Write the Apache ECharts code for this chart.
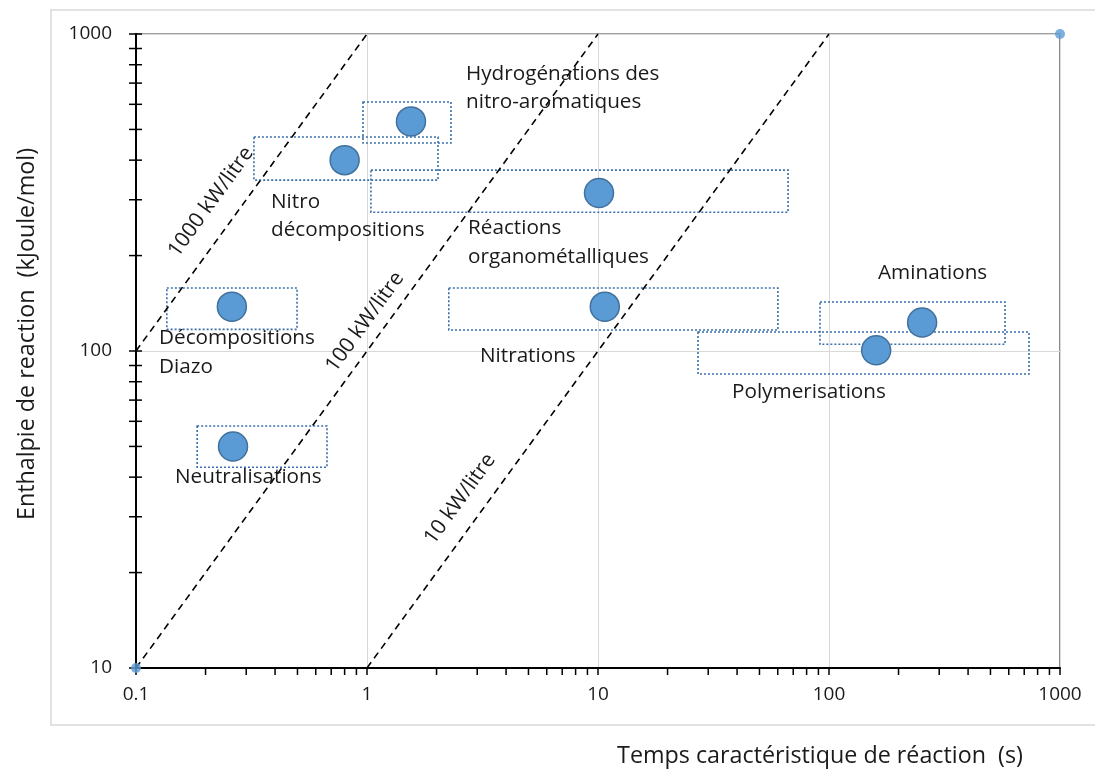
<!DOCTYPE html>
<html>
<head>
<meta charset="utf-8">
<script src="https://cdn.jsdelivr.net/npm/echarts@6/dist/echarts.min.js"></script>
<style>
html,body{margin:0;padding:0;background:#fff;}
#chart{width:1095px;height:771px;}
</style>
</head>
<body>
<div id="chart"></div>
<script>
// ---- data ----
var reactionNames = ['Nitro décompositions','Hydrogénations des nitro-aromatiques','Réactions organométalliques','Décompositions Diazo','Neutralisations','Nitrations','Aminations','Polymerisations'];
var reactionTimes = [0.8, 1.55, 10.1, 0.26, 0.263, 10.7, 253, 160];        // s
var reactionEnthalpy = [400, 530, 315, 138, 50, 138, 123, 100.5];           // kJ/mol
// range boxes: [tMin, tMax, hMin, hMax]
var boxTMin = [0.324, 0.961, 1.04, 0.136, 0.184, 2.26, 91.4, 27.1];
var boxTMax = [2.03, 2.31, 66.5, 0.498, 0.671, 60.1, 578, 734];
var boxHMin = [346, 453, 274, 117, 43, 116.5, 105, 84.6];
var boxHMax = [473, 610, 372, 158, 58, 158, 142.8, 114.8];
// corner points
var cornerPoints = [[0.1, 10], [1000, 1000]];
// power lines (kW/litre)
var powerNames = ['1000 kW/litre', '100 kW/litre', '10 kW/litre'];
var line1000 = [[0.1, 100], [1, 1000]];
var line100 = [[0.1, 10], [10, 1000]];
var line10 = [[1, 10], [100, 1000]];
// ticks
var xMajorTicks = [0.1, 1, 10, 100, 1000];
var yMajorTicks = [10, 100, 1000];
var xMinorTicks = [0.2,0.3,0.4,0.5,0.6,0.7,0.8,0.9, 2,3,4,5,6,7,8,9, 20,30,40,50,60,70,80,90, 200,300,400,500,600,700,800,900];
var yMinorTicks = [20,30,40,50,60,70,80,90, 200,300,400,500,600,700,800,900];

var FONT = 'Open Sans';
var chart = echarts.init(document.getElementById('chart'));

function fmt(v){ return v < 1 ? String(Math.round(v*10)/10) : String(Math.round(v)); }

var boxData = boxTMin.map(function(_, i){ return [boxTMin[i], boxTMax[i], boxHMin[i], boxHMax[i]]; });
var pointData = reactionTimes.map(function(t, i){ return {name: reactionNames[i], value: [t, reactionEnthalpy[i]]}; });

var xTickData = xMajorTicks.concat(xMinorTicks).map(function(v){ return [v, 10]; });
var yTickData = yMajorTicks.concat(yMinorTicks).map(function(v){ return [0.1, v]; });

var annotations = [
  {t:'Hydrogénations des', x:466, y:74},
  {t:'nitro-aromatiques', x:466, y:102},
  {t:'Nitro', x:271, y:202},
  {t:'décompositions', x:271, y:230},
  {t:'Réactions', x:468, y:228},
  {t:'organométalliques', x:468, y:257},
  {t:'Aminations', x:878, y:273},
  {t:'Décompositions', x:159, y:338},
  {t:'Diazo', x:159, y:367},
  {t:'Nitrations', x:480, y:356},
  {t:'Polymerisations', x:732, y:392},
  {t:'Neutralisations', x:175, y:477}
];
var rotLabels = [
  {t: powerNames[0], x:211, y:202},
  {t: powerNames[1], x:365, y:322},
  {t: powerNames[2], x:460, y:499}
];

var graphics = [
  {type:'rect', shape:{x:51, y:10, width:1100, height:715}, style:{fill:null, stroke:'#d9d9d9', lineWidth:1.5}, silent:true, z:-10}
];
annotations.forEach(function(a){
  graphics.push({type:'text', x:a.x, y:a.y, style:{text:a.t, fontFamily:FONT, fontSize:20.7, fill:'#1a1a1a', align:'left', verticalAlign:'middle'}, z:50});
});
rotLabels.forEach(function(a){
  graphics.push({type:'text', x:a.x, y:a.y, rotation:0.945, originX:0, originY:0, style:{text:a.t, fontFamily:FONT, fontSize:21, fill:'#1a1a1a', align:'center', verticalAlign:'middle'}, z:50});
});
graphics.push({type:'text', x:27, y:334, rotation:Math.PI/2, style:{text:'Enthalpie de reaction  (kJoule/mol)', fontFamily:FONT, fontSize:23.3, fill:'#1a1a1a', align:'center', verticalAlign:'middle'}});
graphics.push({type:'text', x:820, y:756, style:{text:'Temps caractéristique de réaction  (s)', fontFamily:FONT, fontSize:23.3, fill:'#1a1a1a', align:'center', verticalAlign:'middle'}});

function dashed(name, data){
  return {type:'line', name:name, data:data, symbol:'none', silent:true, z:3,
    lineStyle:{color:'#000', width:1.6, type:[7,5]}};
}

var option = {
  animation:false,
  backgroundColor:'#fff',
  grid:{left:136, right:35, top:34, bottom:103, show:true, borderColor:'#404040', borderWidth:1.2, backgroundColor:'transparent'},
  graphic: graphics,
  xAxis:{type:'log', logBase:10, min:0.1, max:1000,
    axisLine:{show:true, onZero:false, lineStyle:{color:'#000', width:2}},
    axisTick:{show:false},
    splitLine:{show:true, lineStyle:{color:'#d9d9d9', width:1}},
    axisLabel:{fontFamily:FONT, fontSize:19, color:'#1a1a1a', margin:17, formatter:fmt}
  },
  yAxis:{type:'log', logBase:10, min:10, max:1000,
    axisLine:{show:true, onZero:false, lineStyle:{color:'#000', width:2}},
    axisTick:{show:false},
    splitLine:{show:true, lineStyle:{color:'#d9d9d9', width:1}},
    axisLabel:{fontFamily:FONT, fontSize:19, color:'#1a1a1a', margin:24, formatter:fmt}
  },
  series:[
    {type:'custom', name:'boxes', data:boxData, encode:{x:[0,1], y:[2,3]}, z:2, silent:true,
      renderItem:function(params, api){
        var p0 = api.coord([api.value(0), api.value(3)]);
        var p1 = api.coord([api.value(1), api.value(2)]);
        return {type:'rect', shape:{x:p0[0], y:p0[1], width:p1[0]-p0[0], height:p1[1]-p0[1]},
          style:{fill:null, stroke:'#3A6FAA', lineWidth:1.6, lineDash:[2,2]}};
      }},
    dashed(powerNames[0], line1000),
    dashed(powerNames[1], line100),
    dashed(powerNames[2], line10),
    {type:'custom', name:'xticks', data:xTickData, clip:false, z:5, silent:true,
      renderItem:function(params, api){
        var p = api.coord([api.value(0), api.value(1)]);
        return {type:'line', shape:{x1:p[0], y1:p[1], x2:p[0], y2:p[1]+7}, style:{stroke:'#000', lineWidth:1.5}};
      }},
    {type:'custom', name:'yticks', data:yTickData, clip:false, z:5, silent:true,
      renderItem:function(params, api){
        var p = api.coord([api.value(0), api.value(1)]);
        return {type:'line', shape:{x1:p[0]-7, y1:p[1], x2:p[0]+6, y2:p[1]}, style:{stroke:'#000', lineWidth:1.5}};
      }},
    {type:'scatter', name:'corners', data:cornerPoints, symbolSize:10, clip:false, z:6,
      itemStyle:{color:'#5B9BD5'}},
    {type:'scatter', name:'reactions', data:pointData, symbolSize:29, clip:false, z:10,
      itemStyle:{color:'#5B9BD5', borderColor:'#41719C', borderWidth:1.5, opacity:1}}
  ]
};
chart.setOption(option);
</script>
</body>
</html>
